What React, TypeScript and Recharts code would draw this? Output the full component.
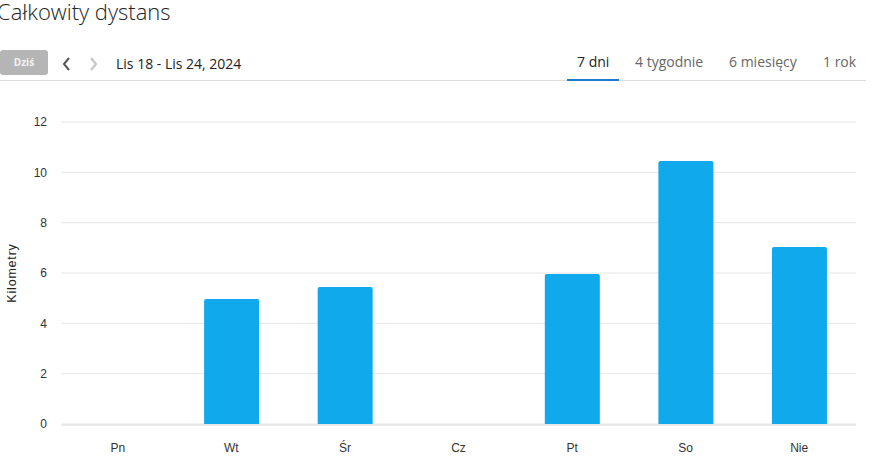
// Weekly total distance bar chart with header/tabs.

import { BarChart, Bar, XAxis, YAxis, CartesianGrid } from "recharts";

const days = ["Pn", "Wt", "Śr", "Cz", "Pt", "So", "Nie"];
const distanceKm = [0, 4.97, 5.44, 0, 5.96, 10.45, 7.03];
const yTicks = [0, 2, 4, 6, 8, 10, 12];
const boundaryTicks = [0, 1, 2, 3, 4, 5, 6, 7];
const tabs = ["7 dni", "4 tygodnie", "6 miesięcy", "1 rok"];
const tabX = [577, 635, 729, 823];

// pos = centre of each day's band on a 0..7 scale (used only for the boundary tick axis)
const data = days.map((day, i) => ({ day, km: distanceKm[i], pos: i + 0.5 }));

const sans = "'Open Sans', 'Noto Sans', sans-serif";
const axisFont = "'Liberation Sans', Arial, sans-serif";

export default function App() {
  return (
    <div
      style={{
        position: "absolute",
        left: 0,
        top: 0,
        width: 876,
        height: 465,
        background: "#fff",
        overflow: "hidden",
        fontFamily: sans,
      }}
    >
      <div
        style={{
          position: "absolute",
          left: -3,
          top: -4,
          fontSize: 22,
          fontWeight: 300,
          color: "#222",
          whiteSpace: "nowrap",
        }}
      >
        Całkowity dystans
      </div>

      {/* Dziś button */}
      <div
        style={{
          position: "absolute",
          left: 0,
          top: 50,
          width: 48,
          height: 25,
          borderRadius: 3,
          background: "#b5b5b5",
          color: "#f2f2f2",
          fontSize: 10,
          fontWeight: 700,
          lineHeight: "25px",
          textAlign: "center",
        }}
      >
        Dziś
      </div>

      <svg style={{ position: "absolute", left: 60, top: 55 }} width={44} height={18}>
        <path d="M9 3 L4 9 L9 15" stroke="#555" strokeWidth={2} fill="none" />
        <path d="M31 3 L36 9 L31 15" stroke="#c4c4c4" strokeWidth={2} fill="none" />
      </svg>

      <div
        style={{
          position: "absolute",
          left: 116,
          top: 54,
          fontSize: 14,
          color: "#222",
          whiteSpace: "nowrap",
        }}
      >
        Lis 18 - Lis 24, 2024
      </div>

      {tabs.map((t, i) => (
        <div
          key={t}
          style={{
            position: "absolute",
            left: tabX[i],
            top: 52,
            fontSize: 14,
            color: i === 0 ? "#222" : "#666",
            whiteSpace: "nowrap",
          }}
        >
          {t}
        </div>
      ))}
      <div
        style={{ position: "absolute", left: 0, top: 80, width: 866, height: 1, background: "#ddd" }}
      />
      <div
        style={{ position: "absolute", left: 567, top: 79, width: 52, height: 2, background: "#1e78d4" }}
      />

      <div style={{ position: "absolute", left: 0, top: 90 }}>
        <BarChart
          width={876}
          height={375}
          data={data}
          margin={{ top: 32, right: 20, bottom: 39, left: 0 }}
          barCategoryGap="26%"
        >
          <CartesianGrid vertical={false} stroke="#e6e6e6" />
          <XAxis
            xAxisId="edges"
            dataKey="pos"
            type="number"
            domain={[0, 7]}
            ticks={boundaryTicks}
            height={1}
            tick={false}
            tickSize={9}
            stroke="#dcdcdc"
            allowDataOverflow
          />
          <XAxis
            xAxisId="cat"
            dataKey="day"
            height={1}
            axisLine={false}
            tickLine={false}
            tickMargin={13}
            tick={{ fill: "#333", fontSize: 12, fontFamily: axisFont }}
          />
          <YAxis
            domain={[0, 12]}
            ticks={yTicks}
            width={61}
            axisLine={false}
            tickLine={false}
            tickSize={0}
            tickMargin={14}
            tick={{ fill: "#333", fontSize: 12, fontFamily: axisFont }}
            label={{
              value: "Kilometry",
              angle: -90,
              position: "insideLeft",
              offset: 12,
              style: {
                fill: "#222",
                fontSize: 12.5,
                letterSpacing: 0.8,
                fontFamily: axisFont,
                textAnchor: "middle",
              },
            }}
          />
          <Bar
            xAxisId="cat"
            dataKey="km"
            fill="#10a9eb"
            radius={[2, 2, 0, 0]}
            isAnimationActive={false}
          />
        </BarChart>
      </div>
    </div>
  );
}
